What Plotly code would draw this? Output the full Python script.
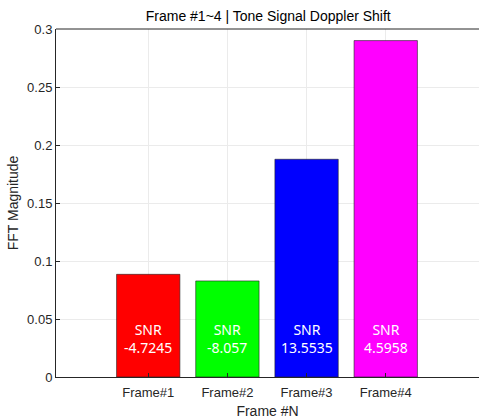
import plotly.graph_objects as go

frames = ["Frame#1", "Frame#2", "Frame#3", "Frame#4"]
positions = [1, 2, 3, 4]
magnitudes = [0.0885, 0.0828, 0.1877, 0.2900]
snr_values = ["-4.7245", "-8.057", "13.5535", "4.5958"]
bar_colors = ["#ff0000", "#00ff00", "#0000ff", "#ff00ff"]
label_y = 0.0336

fig = go.Figure()
fig.add_trace(go.Bar(
    x=positions, y=magnitudes, width=0.8,
    marker=dict(color=bar_colors, line=dict(color="#222222", width=0.6)),
    showlegend=False, hoverinfo="skip",
))

for xp, s in zip(positions, snr_values):
    fig.add_annotation(
        x=xp, y=label_y, xref="x", yref="y",
        text="SNR<br>" + s, showarrow=False,
        font=dict(family="Noto Sans", size=14, color="white"),
        align="center", yanchor="middle",
    )

# top box edge of the axes
fig.add_shape(type="line", xref="paper", yref="paper", x0=0, x1=1, y0=1, y1=1,
              line=dict(color="#262626", width=1))

axis_font = dict(family="Liberation Sans, Arial", size=13, color="#262626")

fig.update_layout(
    width=479, height=419,
    margin=dict(l=56, r=0, t=29, b=42, autoexpand=False),
    paper_bgcolor="white", plot_bgcolor="white",
    title=dict(text="Frame #1~4 | Tone Signal Doppler Shift",
               x=0.56, xanchor="center", y=0.962, yanchor="middle",
               font=dict(family="Liberation Sans, Arial", size=14, color="#000000")),
    xaxis=dict(
        range=[-0.165, 5.178], tickvals=positions, ticktext=frames,
        showgrid=True, gridcolor="#ebebeb", gridwidth=1,
        showline=True, linecolor="#262626", linewidth=1, mirror=False,
        ticks="inside", ticklen=4, tickcolor="#262626",
        tickfont=axis_font, zeroline=False, ticklabelstandoff=3,
        automargin=False,
        title=dict(text="Frame #N", font=dict(family="Liberation Sans, Arial", size=14, color="#262626"), standoff=8),
    ),
    yaxis=dict(
        range=[0, 0.3], tickvals=[0, 0.05, 0.1, 0.15, 0.2, 0.25, 0.3],
        ticktext=["0", "0.05", "0.1", "0.15", "0.2", "0.25", "0.3"],
        showgrid=True, gridcolor="#ebebeb", gridwidth=1,
        showline=True, linecolor="#262626", linewidth=1, mirror=False,
        ticks="inside", ticklen=4, tickcolor="#262626",
        tickfont=axis_font, zeroline=False, automargin=False,
        title=dict(text="FFT Magnitude", font=dict(family="Liberation Sans, Arial", size=14, color="#262626"), standoff=5),
    ),
)

fig.write_html("out.html", config={"displayModeBar": False},
               post_script="document.body.style.margin='0px';document.body.style.overflow='hidden';")
